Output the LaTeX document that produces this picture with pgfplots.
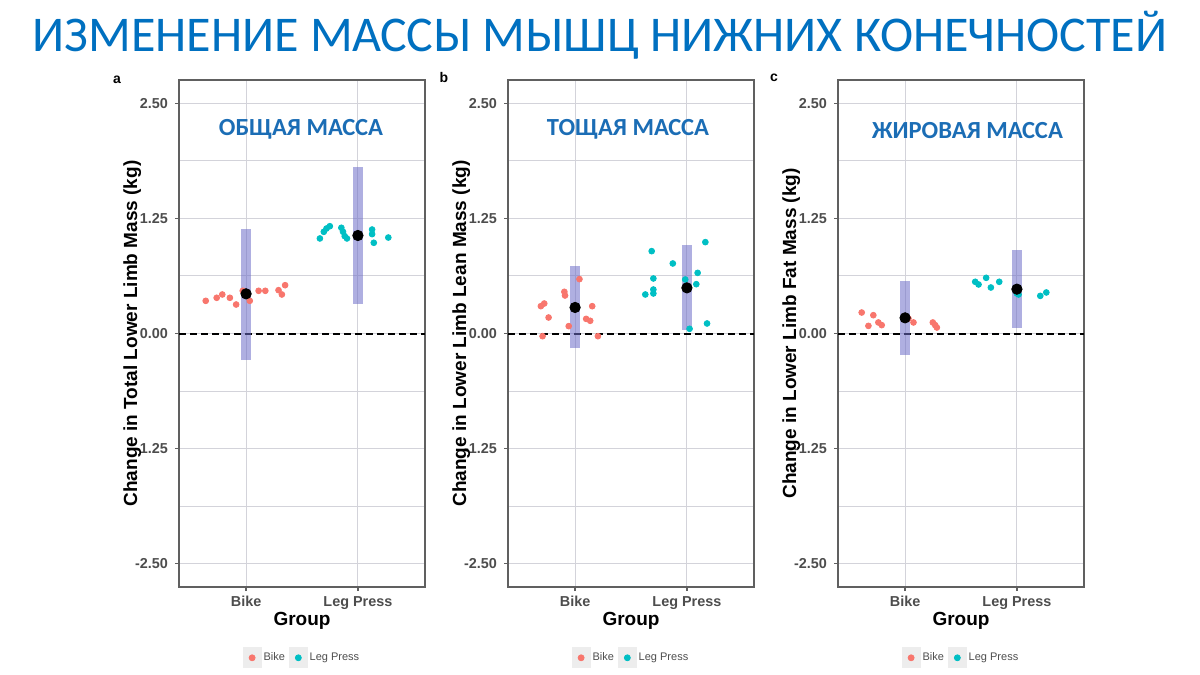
\documentclass[border=0pt]{standalone}
\usepackage{fontspec}
\setmainfont{Liberation Sans}
\newfontfamily\carlito{Carlito}
\usepackage{pgfplots}
\pgfplotsset{compat=1.18}
\definecolor{bikered}{HTML}{F8766D}
\definecolor{lpteal}{HTML}{00BFC4}
\definecolor{titleblue}{HTML}{0070C0}
\definecolor{panelblue}{HTML}{1B6DB5}
\definecolor{gridgray}{HTML}{D3D3DA}
\definecolor{framegray}{HTML}{606060}
\definecolor{tickgray}{HTML}{4D4D4D}
\definecolor{barcol}{RGB}{110,110,200}
\pgfplotsset{panel/.style={
  width=123pt, height=253.5pt, scale only axis,
  xmin=0.4, xmax=2.6, ymin=-2.755, ymax=2.755,
  xtick={1,2}, xticklabels={Bike,Leg Press},
  ytick={-2.5,-1.25,0,1.25,2.5}, yticklabels={-2.50,-1.25,0.00,1.25,2.50},
  minor ytick={-1.875,-0.625,0.625,1.875},
  xmajorgrids, ymajorgrids, yminorgrids,
  grid style={color=gridgray, line width=0.5pt},
  minor grid style={color=gridgray, line width=0.5pt},
  axis line style={color=framegray, line width=0.8pt},
  tick pos=left,
  tick align=outside, major tick length=2pt, minor tick length=0pt,
  tick style={color=framegray, line width=0.6pt},
  ticklabel style={font=\fontsize{7.2}{8}\selectfont\bfseries, text=tickgray},
  xticklabel style={text height=0.75em, text depth=0.22em, yshift=3.5pt},
  xlabel={Group},
  xlabel style={font=\fontsize{9.5}{11}\selectfont\bfseries, at={(axis description cs:0.5,0)}, anchor=center, yshift=-17pt},
  ylabel style={font=\fontsize{9.5}{11}\selectfont\bfseries, at={(axis description cs:-0.19,0.5)}, anchor=center},
  legend style={at={(0.5,0)}, anchor=north, yshift=-29pt, draw=none, fill=none,
    legend columns=2, font=\fontsize{5.5}{6}\selectfont, text=tickgray,
    /tikz/every even column/.append style={column sep=1pt},
    inner sep=1pt, nodes={inner sep=1pt}},
  legend cell align=left,
  clip=false,
},
bikepts/.style={only marks, mark=*, mark size=1.45pt, color=bikered,
  legend image code/.code={\fill[black!7] (-1pt,-5pt) rectangle (8pt,5pt); \fill[bikered] (3.5pt,0pt) circle (1.5pt);}},
lppts/.style={only marks, mark=*, mark size=1.45pt, color=lpteal,
  legend image code/.code={\fill[black!7] (-1pt,-5pt) rectangle (8pt,5pt); \fill[lpteal] (3.5pt,0pt) circle (1.5pt);}},
cibar/.style={forget plot, no marks, line width=5pt, color=barcol, opacity=0.55},
meanpt/.style={forget plot, only marks, mark=*, mark size=2.6pt, color=black},
zeroline/.style={forget plot, no marks, black, line width=1pt, dash pattern=on 3.5pt off 2pt},
}
\begin{document}
\begin{tikzpicture}
\useasboundingbox (0,0) rectangle (600pt,337.5pt);
\node[anchor=base, text=titleblue, font=\carlito\fontsize{25}{28}\selectfont] at (300pt,311.5pt) {ИЗМЕНЕНИЕ МАССЫ МЫШЦ НИЖНИХ КОНЕЧНОСТЕЙ};

% ---------- panel a ----------
\begin{axis}[panel, at={(89.5pt,44pt)}, anchor=south west,
  ylabel={Change in Total Lower Limb Mass (kg)}]
\addplot[zeroline] coordinates {(0.4,0) (2.6,0)};
\addplot[bikepts] coordinates {
(0.639,0.355) (0.737,0.388) (0.787,0.424) (0.855,0.388) (0.911,0.315) (0.970,0.464)
(1.033,0.355) (1.112,0.464) (1.172,0.464) (1.290,0.471) (1.320,0.424) (1.349,0.525)};
\addlegendentry{Bike}
\addplot[lppts] coordinates {
(1.660,1.033) (1.695,1.105) (1.719,1.141) (1.749,1.166) (1.852,1.149) (1.867,1.105)
(1.882,1.058) (1.902,1.033) (2.127,1.130) (2.127,1.080) (2.142,0.986) (2.272,1.043)};
\addlegendentry{Leg Press}
\addplot[cibar] coordinates {(1,-0.29) (1,1.141)};
\addplot[cibar] coordinates {(2,0.326) (2,1.812)};
\addplot[meanpt] coordinates {(1,0.431) (2,1.065)};
\end{axis}

% ---------- panel b ----------
\begin{axis}[panel, at={(254pt,44pt)}, anchor=south west,
  ylabel={Change in Lower Limb Lean Mass (kg)}]
\addplot[zeroline] coordinates {(0.4,0) (2.6,0)};
\addplot[bikepts] coordinates {
(0.709,-0.029) (0.694,0.297) (0.724,0.326) (0.763,0.174) (0.904,0.453) (0.910,0.413)
(0.943,0.080) (1.039,0.591) (1.099,0.159) (1.135,0.138) (1.153,0.297) (1.204,-0.029)};
\addlegendentry{Bike}
\addplot[lppts] coordinates {
(1.685,0.895) (1.628,0.424) (1.700,0.435) (1.700,0.478) (1.700,0.598) (1.874,0.761)
(1.985,0.587) (2.084,0.536) (2.096,0.659) (2.165,0.993) (2.024,0.051) (2.180,0.109)};
\addlegendentry{Leg Press}
\addplot[cibar] coordinates {(1,-0.163) (1,0.732)};
\addplot[cibar] coordinates {(2,0.036) (2,0.960)};
\addplot[meanpt] coordinates {(1,0.283) (2,0.496)};
\end{axis}

% ---------- panel c ----------
\begin{axis}[panel, at={(419pt,44pt)}, anchor=south west,
  ylabel={Change in Lower Limb Fat Mass (kg)}]
\addplot[zeroline] coordinates {(0.4,0) (2.6,0)};
\addplot[bikepts] coordinates {
(0.612,0.228) (0.672,0.083) (0.716,0.199) (0.761,0.120) (0.791,0.091) (1.030,0.163)
(1.075,0.120) (1.248,0.120) (1.269,0.091) (1.284,0.065)};
\addlegendentry{Bike}
\addplot[lppts] coordinates {
(1.627,0.562) (1.657,0.533) (1.725,0.605) (1.767,0.500) (1.842,0.562) (2.000,0.435)
(2.015,0.424) (2.209,0.409) (2.263,0.446)};
\addlegendentry{Leg Press}
\addplot[cibar] coordinates {(1,-0.236) (1,0.572)};
\addplot[cibar] coordinates {(2,0.065) (2,0.906)};
\addplot[meanpt] coordinates {(1,0.170) (2,0.482)};
\end{axis}

% panel letters and panel titles
\node[font=\fontsize{7}{8}\selectfont\bfseries, anchor=center] at (58.5pt,297.5pt) {a};
\node[font=\fontsize{7}{8}\selectfont\bfseries, anchor=center] at (222pt,298.5pt) {b};
\node[font=\fontsize{7}{8}\selectfont\bfseries, anchor=center] at (387pt,298.5pt) {c};
\node[anchor=base, text=panelblue, font=\carlito\bfseries\fontsize{12.3}{14}\selectfont] at (150.5pt,269.6pt) {ОБЩАЯ МАССА};
\node[anchor=base, text=panelblue, font=\carlito\bfseries\fontsize{12.3}{14}\selectfont] at (314pt,269.6pt) {ТОЩАЯ МАССА};
\node[anchor=base, text=panelblue, font=\carlito\bfseries\fontsize{12.3}{14}\selectfont] at (483.75pt,268.2pt) {ЖИРОВАЯ МАССА};
\end{tikzpicture}
\end{document}
